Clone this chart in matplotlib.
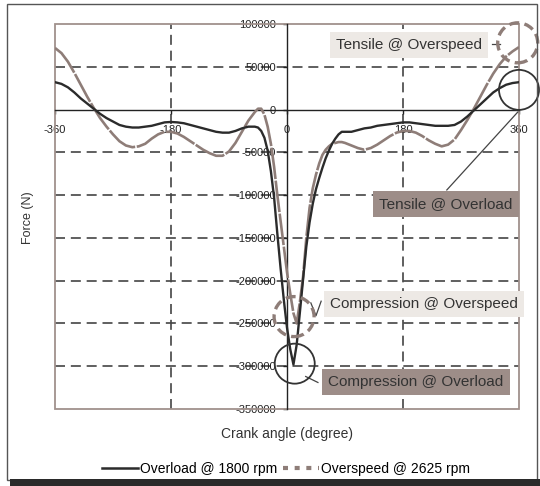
import matplotlib
matplotlib.use("Agg")
import matplotlib.pyplot as plt
from matplotlib.patches import Rectangle, Circle
from matplotlib.lines import Line2D
from matplotlib.transforms import ScaledTranslation

plt.rcParams['font.family'] = ['Liberation Sans', 'DejaVu Sans']
plt.rcParams['axes.unicode_minus'] = False

# crank angle (degree)
angle = [-360, -350, -340, -330, -320, -310, -300, -290, -280, -270, -260, -250,
         -240, -230, -220, -210, -200, -190, -180, -170, -160, -150, -140, -130,
         -120, -110, -100, -90, -80, -70, -60, -50, -45, -40, -35, -30, -25, -20,
         -15, -10, -5, 0, 5, 10, 15, 20, 25, 30, 35, 40, 45, 50, 55, 60, 65, 70,
         75, 80, 85, 90, 100, 110, 120, 130, 140, 150, 160, 170, 180, 190, 200,
         210, 220, 230, 240, 250, 260, 270, 280, 290, 300, 310, 320, 330, 340,
         350, 360]

# force in kN
overload = [32, 30, 26, 20, 13, 7, 1, -5, -10, -14, -18, -20,
            -21, -21, -20, -19, -17, -15, -14.5, -15, -16, -18, -20, -22,
            -24, -26, -27, -27, -25, -22, -20, -20, -21, -25, -33, -48, -72, -103,
            -145, -185, -222, -255, -280, -298, -275, -237, -198, -160, -132, -110, -93, -80, -68, -57, -48, -40,
            -34, -29, -26, -26, -26, -24, -22, -21, -19, -18, -17, -16, -15, -15, -16,
            -17, -18, -19, -19, -19, -18, -14, -8, -1, 6, 13, 20, 25, 29,
            31, 32]

overspeed = [72, 66, 56, 43, 29, 15, 2, -10, -20, -29, -37, -42,
             -44, -43, -40, -34, -29, -26, -26, -28, -32, -37, -42, -47,
             -51, -54, -54, -49, -39, -26, -13, -3, 1, 1, -6, -20, -40, -67,
             -100, -130, -160, -190, -215, -238, -250, -225, -195, -150, -115, -92, -76, -63, -53, -47, -43, -40,
             -39, -38, -38, -39, -42, -45, -47, -45, -41, -36, -31, -27, -25, -25, -27,
             -31, -36, -40, -43, -41, -35, -24, -12, 1, 15, 29, 42, 53, 62,
             68, 73]

x_ticks = [-360, -180, 0, 180, 360]
y_ticks = [100000, 50000, 0, -50000, -100000, -150000, -200000, -250000, -300000, -350000]
y_grid = [50000, -50000, -100000, -150000, -200000, -250000, -300000]
x_grid = [-180, 180]

series_labels = ['Overload @ 1800 rpm', 'Overspeed @ 2625 rpm']

# annotation boxes: text, center, box colour
notes = [
    ('Tensile @ Overspeed', 189, 75500, '#ede9e5'),
    ('Tensile @ Overload', 247, -110000, '#9d8d88'),
    ('Compression @ Overspeed', 213, -227000, '#ede9e5'),
    ('Compression @ Overload', 200, -318000, '#9d8d88'),
]
# circles: center, dashed?
rings = [
    (358, 78000, True),
    (360, 23000, False),
    (11, -242000, True),
    (12, -297000, False),
]
# leader lines
leaders = [
    ([318, 330], [77000, 77000]),
    ([358, 248], [-3000, -94000]),
    ([37, 45, 53], [-226000, -241000, -224000]),
    ([29, 48], [-312000, -319000]),
]

black = '#2b2b2b'
brown = '#8e7d78'
frame_col = '#a0918c'

fig = plt.figure(figsize=(5.4, 4.86), dpi=100)
ax = fig.add_axes([55 / 540, 1 - 409 / 486, 464 / 540, 385 / 486])

ax.set_xlim(-360, 360)
ax.set_ylim(-350000, 100000)

# grid
for y in y_grid:
    ax.axhline(y, color='#444444', lw=1.2, ls=(0, (6, 3.5)), zorder=1)
for x in x_grid:
    ax.axvline(x, color='#444444', lw=1.2, ls=(0, (6, 3.5)), zorder=1)

ax.plot(angle, [v * 1000 for v in overspeed], color=brown, lw=1.9,
        ls=(0, (12, 0.6)), zorder=3)
ax.plot(angle, [v * 1000 for v in overload], color=black, lw=1.7, zorder=4)

# axes through zero, brown frame round the plot
ax.spines['left'].set_position(('data', 0))
ax.spines['bottom'].set_position(('data', 0))
for s in ['left', 'bottom']:
    ax.spines[s].set_color('#222222')
    ax.spines[s].set_linewidth(1.0)
    ax.spines[s].set_zorder(2)
ax.spines['top'].set_visible(False)
ax.spines['right'].set_visible(False)
ax.add_patch(Rectangle((0, 0), 1, 1, transform=ax.transAxes, fill=False,
                       ec=frame_col, lw=1.3, clip_on=False, zorder=2))

ax.set_xticks(x_ticks)
ax.set_xticklabels([str(t) for t in x_ticks])
ax.set_yticks(y_ticks)
ax.set_yticklabels([str(t) for t in y_ticks])
ax.tick_params(axis='y', length=3, width=1, direction='out', pad=5,
               labelsize=8, colors='#222222')
ax.tick_params(axis='x', length=3, width=1, direction='out', pad=8,
               labelsize=8, colors='#222222')

# annotations
for txt, x, y, fc in notes:
    ax.text(x, y, txt, ha='center', va='center', fontsize=11, color='#333333',
            bbox=dict(boxstyle='square,pad=0.4', fc=fc, ec='none'), zorder=6)
for x, y, dashed in rings:
    trans = fig.dpi_scale_trans + ScaledTranslation(x, y, ax.transData)
    if dashed:
        c = Circle((0, 0), 0.2, transform=trans, fill=False, ec=brown, lw=2.4,
                   ls=(0, (3, 1.6)), clip_on=False, zorder=7)
    else:
        c = Circle((0, 0), 0.2, transform=trans, fill=False, ec='#333333', lw=1.3,
                   clip_on=False, zorder=7)
    ax.add_patch(c)
for xs, ys in leaders:
    ax.plot(xs, ys, color='#444444', lw=0.9, clip_on=False, zorder=6)

fig.text(287 / 540, 1 - 434 / 486, 'Crank angle (degree)', ha='center', va='center',
         fontsize=10, color='#333333')
fig.text(28 / 540, 1 - 218 / 486, 'Force (N)', ha='center', va='center',
         rotation=90, fontsize=9, color='#333333')

handles = [Line2D([], [], color=black, lw=1.8),
           Line2D([], [], color=brown, lw=3, ls=(0, (1.2, 1.6)))]
fig.legend(handles, series_labels, loc='center', bbox_to_anchor=(286 / 540, 1 - 469 / 486),
           ncol=2, frameon=False, fontsize=10, handlelength=2.6, handletextpad=0.15,
           columnspacing=0.4)

# outer border with shadow at the bottom
fig.patches.append(Rectangle((7 / 540, 1 - 480 / 486), 530 / 540, 476 / 486,
                             transform=fig.transFigure, fill=False, ec='#555555', lw=1))
fig.patches.append(Rectangle((10 / 540, 0), 530 / 540, 7 / 486,
                             transform=fig.transFigure, fc='#2a2a2a', ec='none'))

fig.savefig('out.png', dpi=100)
